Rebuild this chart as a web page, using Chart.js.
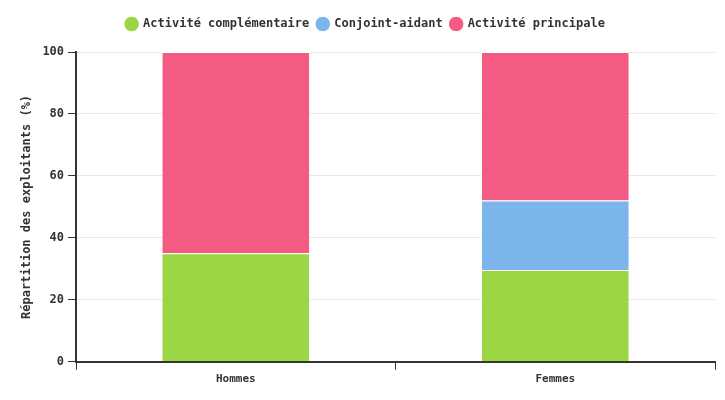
<!DOCTYPE html>
<html>
<head>
<meta charset="utf-8">
<script src="https://cdn.jsdelivr.net/npm/chart.js@4/dist/chart.umd.min.js"></script>
<style>
  html, body { margin: 0; padding: 0; background: #fff; }
  #wrap { width: 725px; height: 400px; }
</style>
</head>
<body>
<div id="wrap"><canvas id="chart"></canvas></div>
<script>
const categories = ["Hommes", "Femmes"];
const activiteComplementaire = [35, 29.6];
const conjointAidant = [0, 22.5];
const activitePrincipale = [65, 47.9];

Chart.defaults.font.family = "'DejaVu Sans Mono', monospace";
Chart.defaults.font.weight = "bold";
Chart.defaults.font.size = 12;
Chart.defaults.color = "#333";

// extra room under the legend
const legendGap = {
  id: "legendGap",
  beforeInit(chart) {
    const fit = chart.legend.fit;
    chart.legend.fit = function () {
      fit.bind(chart.legend)();
      this.height += 12;
    };
  }
};

const ctx = document.getElementById("chart").getContext("2d");

new Chart(ctx, {
  type: "bar",
  data: {
    labels: categories,
    datasets: [
      { label: "Activité complémentaire", data: activiteComplementaire, backgroundColor: "#9bd645" },
      { label: "Conjoint-aidant", data: conjointAidant, backgroundColor: "#7cb5ec" },
      { label: "Activité principale", data: activitePrincipale, backgroundColor: "#f45b82" }
    ]
  },
  plugins: [legendGap],
  options: {
    responsive: true,
    maintainAspectRatio: false,
    animation: false,
    datasets: {
      bar: {
        borderColor: "#fff",
        borderWidth: 1,
        categoryPercentage: 0.5,
        barPercentage: 0.93
      }
    },
    layout: { padding: { left: 16, right: 10, top: 10, bottom: 11 } },
    plugins: {
      legend: {
        labels: {
          usePointStyle: true,
          pointStyle: "circle",
          boxWidth: 11,
          boxHeight: 11,
          padding: 8,
          color: "#333"
        }
      },
      tooltip: { enabled: false }
    },
    scales: {
      x: {
        stacked: true,
        grid: {
          display: true,
          drawOnChartArea: false,
          color: "#333",
          tickLength: 8
        },
        border: { color: "#333", width: 2 },
        ticks: { color: "#333", font: { size: 11 } }
      },
      y: {
        stacked: true,
        min: 0,
        max: 100,
        ticks: { stepSize: 20, color: "#333", padding: 4 },
        grid: {
          color: "#e6e6e6",
          tickColor: "#333",
          tickLength: 8
        },
        border: { color: "#333", width: 2 },
        title: {
          display: true,
          text: "Répartition des exploitants (%)",
          color: "#333",
          font: { size: 12, weight: "bold" }
        }
      }
    }
  }
});
</script>
</body>
</html>
